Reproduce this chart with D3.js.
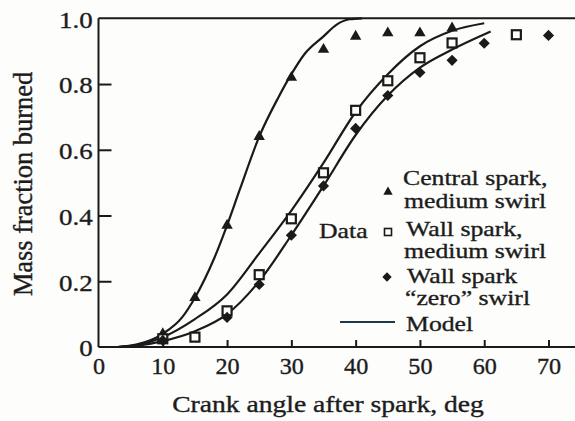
<!DOCTYPE html>
<html>
<head>
<meta charset="utf-8">
<script src="https://cdn.jsdelivr.net/npm/d3@7/dist/d3.min.js"></script>
<style>
  html, body { margin: 0; padding: 0; background: #fdfdfb; }
  svg { display: block; }
  text { font-family: "Liberation Serif", "Times New Roman", serif; fill: #1c1c1c; stroke: #1c1c1c; stroke-width: 0.35px; }
</style>
</head>
<body>
<svg id="chart" width="575" height="421"></svg>
<script>
// ---- data ----
const xTickValues = [0, 10, 20, 30, 40, 50, 60, 70];
const yTickValues = [0, 0.2, 0.4, 0.6, 0.8, 1.0];

const centralAngle = [10, 15, 20, 25, 30, 35, 40, 45, 50, 55];
const centralValue = [0.04, 0.15, 0.37, 0.64, 0.82, 0.905, 0.945, 0.955, 0.955, 0.97];

const wallMedAngle = [10, 15, 20, 25, 30, 35, 40, 45, 50, 55, 65];
const wallMedValue = [0.025, 0.03, 0.11, 0.22, 0.39, 0.53, 0.72, 0.81, 0.88, 0.925, 0.95];

const wallZeroAngle = [10, 20, 25, 30, 35, 40, 45, 50, 55, 60, 70];
const wallZeroValue = [0.02, 0.09, 0.19, 0.34, 0.49, 0.665, 0.765, 0.835, 0.872, 0.924, 0.948];

const modelCentralAngle = [3, 6, 10, 13, 15, 18, 20, 22, 25, 28, 30, 32, 35, 37, 39, 41];
const modelCentralValue = [0, 0.008, 0.04, 0.09, 0.15, 0.27, 0.37, 0.48, 0.64, 0.76, 0.83, 0.89, 0.945, 0.98, 0.997, 1.0];

const modelWallMedAngle = [3, 6, 10, 15, 20, 25, 30, 35, 40, 45, 50, 55, 60];
const modelWallMedValue = [0, 0.006, 0.03, 0.085, 0.16, 0.285, 0.415, 0.56, 0.715, 0.83, 0.915, 0.962, 0.985];

const modelWallZeroAngle = [3, 6, 10, 15, 20, 25, 30, 35, 40, 45, 50, 55, 61];
const modelWallZeroValue = [0, 0.004, 0.018, 0.048, 0.1, 0.2, 0.34, 0.49, 0.645, 0.765, 0.85, 0.905, 0.96];

const legendLabels = [
  ["Central spark,", "medium swirl"],
  ["Wall spark,", "medium swirl"],
  ["Wall spark", "\u201Czero\u201D swirl"],
  ["Model"]
];
const xTitle = "Crank angle after spark, deg";
const yTitle = "Mass fraction burned";
const dataWord = "Data";

// ---- layout ----
const W = 575, H = 421;
const ink = "#1a1a1a";
const svg = d3.select("#chart");
svg.append("rect").attr("width", W).attr("height", H).attr("fill", "#fdfdfb");

const x = d3.scaleLinear().domain([0, 70]).range([98.5, 548.5]);
const y = d3.scaleLinear().domain([0, 1]).range([347, 18.3]);
const SX = 1.17; // horizontal glyph stretch of the scanned type

// frame: top line and axes extending to the right edge
svg.append("line").attr("x1", x(0)).attr("x2", W).attr("y1", y(1)).attr("y2", y(1))
  .attr("stroke", ink).attr("stroke-width", 2);
svg.append("line").attr("x1", x(0)).attr("x2", W).attr("y1", y(0)).attr("y2", y(0))
  .attr("stroke", ink).attr("stroke-width", 2);

// y axis
const yAxis = d3.axisLeft(y).tickValues(yTickValues).tickSizeInner(-13).tickSizeOuter(0)
  .tickPadding(5).tickFormat(d => d === 0 ? "0" : d3.format(".1f")(d));
const gy = svg.append("g").attr("transform", `translate(${x(0)},0)`).call(yAxis);
gy.select(".domain").attr("stroke", ink).attr("stroke-width", 2)
  .attr("d", `M0,${y(1)}V${y(0)}`);
gy.selectAll(".tick line").attr("stroke", ink).attr("stroke-width", 2)
  .attr("display", d => (d === 0 || d === 1) ? "none" : null);
gy.selectAll(".tick text").attr("font-size", 23).attr("fill", "#1c1c1c")
  .attr("dy", "0.38em")
  .attr("transform", `scale(${SX},1)`);

// x axis
const xAxis = d3.axisBottom(x).tickValues(xTickValues).tickSizeInner(-7).tickSizeOuter(0)
  .tickPadding(11).tickFormat(d3.format("d"));
const gx = svg.append("g").attr("transform", `translate(0,${y(0)})`).call(xAxis);
gx.select(".domain").remove();
gx.selectAll(".tick line").attr("stroke", ink).attr("stroke-width", 2)
  .attr("display", d => d === 0 ? "none" : null);
gx.selectAll(".tick text").attr("font-size", 23).attr("fill", "#1c1c1c")
  .attr("transform", `scale(1.05,1)`);

// axis titles
svg.append("text").attr("transform", `translate(328,412) scale(1.2,1)`)
  .attr("text-anchor", "middle").attr("font-size", 23).text(xTitle);
svg.append("text").attr("transform", `translate(32,184) rotate(-90) scale(1.1,1.12)`)
  .attr("text-anchor", "middle").attr("font-size", 24).text(yTitle);

// model curves
const line = d3.line().x(d => x(d[0])).y(d => y(d[1])).curve(d3.curveMonotoneX);
const models = [
  d3.zip(modelCentralAngle, modelCentralValue),
  d3.zip(modelWallMedAngle, modelWallMedValue),
  d3.zip(modelWallZeroAngle, modelWallZeroValue)
];
svg.append("g").selectAll("path").data(models).join("path")
  .attr("d", line).attr("fill", "none").attr("stroke", ink).attr("stroke-width", 2.2);

// markers
const tri = d3.symbol().type(d3.symbolTriangle).size(56);
const dia = d3.symbol().type(d3.symbolSquare).size(62);

svg.append("g").selectAll("path").data(d3.zip(centralAngle, centralValue)).join("path")
  .attr("transform", d => `translate(${x(d[0])},${y(d[1])})`)
  .attr("d", tri).attr("fill", ink);

svg.append("g").selectAll("rect").data(d3.zip(wallMedAngle, wallMedValue)).join("rect")
  .attr("x", d => x(d[0]) - 4.5).attr("y", d => y(d[1]) - 4.5)
  .attr("width", 9).attr("height", 9)
  .attr("fill", "#fdfdfb").attr("stroke", ink).attr("stroke-width", 2.2);

svg.append("g").selectAll("path").data(d3.zip(wallZeroAngle, wallZeroValue)).join("path")
  .attr("transform", d => `translate(${x(d[0])},${y(d[1])}) rotate(45)`)
  .attr("d", dia).attr("fill", ink);

// legend
const lg = svg.append("g");
const lgText = (tx, ty, s) => lg.append("text")
  .attr("transform", `translate(${tx},${ty}) scale(${SX},1)`)
  .attr("font-size", 22).text(s);

lg.append("path").attr("transform", "translate(388,192)")
  .attr("d", d3.symbol().type(d3.symbolTriangle).size(38)).attr("fill", ink);
lgText(403, 185, legendLabels[0][0]);
lgText(404, 208, legendLabels[0][1]);

lgText(319, 238, dataWord);
lg.append("rect").attr("x", 384.5).attr("y", 228.5).attr("width", 7).attr("height", 7)
  .attr("fill", "#fdfdfb").attr("stroke", ink).attr("stroke-width", 1.6);
lgText(406, 236, legendLabels[1][0]);
lgText(404, 258, legendLabels[1][1]);

lg.append("path").attr("transform", "translate(387,277) rotate(45)")
  .attr("d", d3.symbol().type(d3.symbolSquare).size(44)).attr("fill", ink);
lgText(407, 283, legendLabels[2][0]);
lgText(405, 305, legendLabels[2][1]);

lg.append("line").attr("x1", 340).attr("x2", 395).attr("y1", 322).attr("y2", 322)
  .attr("stroke", "#1d3a4c").attr("stroke-width", 2.2);
lgText(406, 331, legendLabels[3][0]);
</script>
</body>
</html>
